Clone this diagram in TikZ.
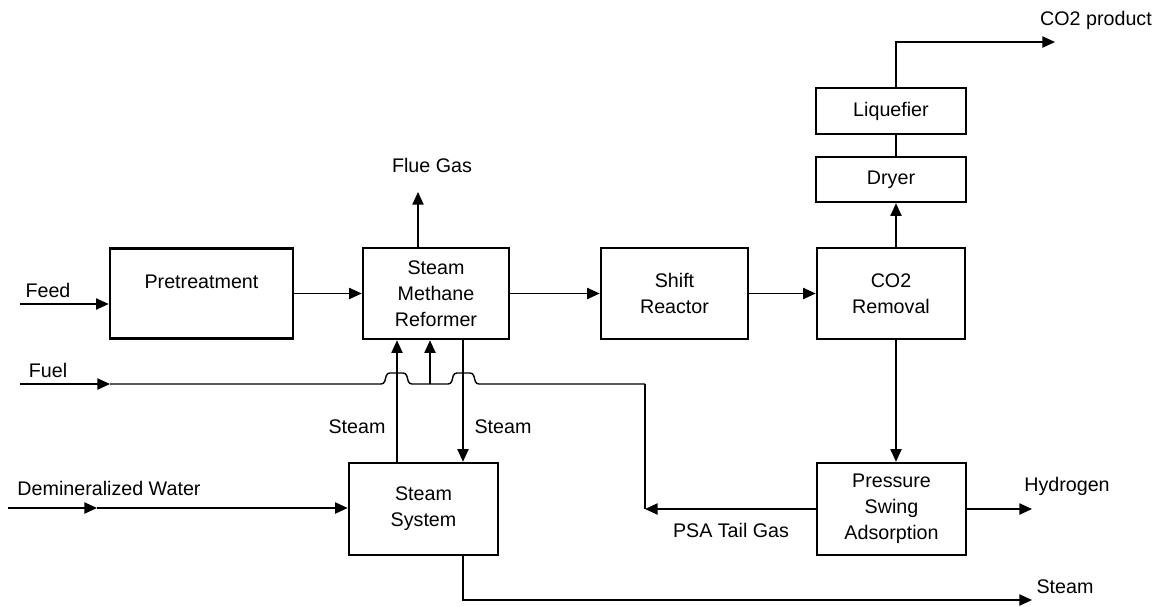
\documentclass[tikz,border=0pt]{standalone}
\usepackage{fontspec}
\setmainfont{Liberation Sans}
\usetikzlibrary{arrows.meta,positioning}
\begin{document}
\begin{tikzpicture}[x=0.025cm,y=-0.025cm,every node/.style={font=\fontsize{14}{18.5}\selectfont},
  box/.style={draw,line width=1.8pt,align=center,inner sep=0pt},
  pipe/.style={line width=1pt},
  flow/.style={line width=1pt,-{Triangle[length=9pt,width=8pt]}}]
\useasboundingbox (0,0) rectangle (1159,606);
\node[box,minimum width=4.575cm,minimum height=2.25cm,label={[yshift=.3cm]center:Pretreatment}] (pre) at (201.5,293.5) {};
\node[box,minimum width=3.65cm,minimum height=2.275cm] (smr) at (436,293.5) {Steam\\Methane\\Reformer};
\node[box,minimum width=3.675cm,minimum height=2.275cm] (shift) at (674.5,293.5) {Shift\\Reactor};
\node[box,minimum width=3.7cm,minimum height=2.275cm] (co2) at (891,293.5) {CO2\\Removal};
\node[box,minimum width=3.75cm,minimum height=1.125cm] (dryer) at (891,179.5) {Dryer};
\node[box,minimum width=3.75cm,minimum height=1.15cm] (liq) at (891,111) {Liquefier};
\node[box,minimum width=3.725cm,minimum height=2.3cm] (psa) at (891.5,509) {Pressure\\Swing\\Adsorption};
\node[box,minimum width=3.725cm,minimum height=2.3cm] (sys) at (423.5,509) {Steam\\System};
\node[anchor=base] (feedlbl) at (48,297) {Feed};
\node[anchor=base] (fuellbl) at (48,377) {Fuel};
\node[anchor=base] (waterlbl) at (109,495) {Demineralized Water};
\node[anchor=base] (fluelbl) at (432,172) {Flue Gas};
\node[anchor=base] (co2lbl) at (1096,25) {CO2 product};
\node[anchor=base] (steaml) at (357,433) {Steam};
\node[anchor=base] (steamr) at (503,433) {Steam};
\node[anchor=base] (taillbl) at (731,537) {PSA Tail Gas};
\node[anchor=base] (h2lbl) at (1067,491) {Hydrogen};
\node[anchor=base] (steamlbl) at (1065,593) {Steam};
\coordinate (feedin) at (20,304);
\coordinate (fuelin) at (20,384);
\coordinate (fuelmid) at (110,384);
\coordinate (fuelsplit) at (430,384);
\coordinate (tailup) at (645,384);
\coordinate (tail) at (645,509);
\coordinate (waterin) at (8,508);
\coordinate (watermid) at (97,508);
\coordinate (flue) at (418,192);
\coordinate (stA) at (397,0);
\coordinate (stB) at (463,0);
\coordinate (colx) at (896,0);
\coordinate (co2out) at (1055,42);
\coordinate (h2out) at (1032,509);
\coordinate (steamout) at (1032,600);
\draw[flow] (feedin) -- (feedin -| pre.west);
\draw[flow] (pre) -- (smr);
\draw[flow] (smr) -- (shift);
\draw[flow] (shift) -- (co2);
\draw[flow] (smr.north -| flue) -- (flue);
\draw[flow] (co2.north -| colx) -- (dryer.south -| colx);
\draw[pipe] (dryer.north -| colx) -- (liq.south -| colx);
\draw[flow] (liq.north -| colx) |- (co2out);
\draw[flow] (co2.south -| colx) -- (psa.north -| colx);
\draw[flow] (psa) -- (h2out);
\draw[flow] (psa) -- (tail);
\draw[pipe] (tail) -- (tailup);
\draw[flow] (fuelin) -- (fuelmid);
\draw[pipe,rounded corners=2pt] (fuelmid) -- (384,384) -- (387,373) -- (406,373) -- (409,384) -- (451,384) -- (454,373) -- (473,373) -- (476,384) -- (tailup);
\draw[flow] (fuelsplit) -- (smr.south -| fuelsplit);
\draw[flow] (sys.north -| stA) -- (smr.south -| stA);
\draw[flow] (smr.south -| stB) -- (sys.north -| stB);
\draw[flow] (waterin) -- (watermid);
\draw[flow] (watermid) -- (watermid -| sys.west);
\draw[flow] (sys.south -| stB) |- (steamout);
\end{tikzpicture}
\end{document}
